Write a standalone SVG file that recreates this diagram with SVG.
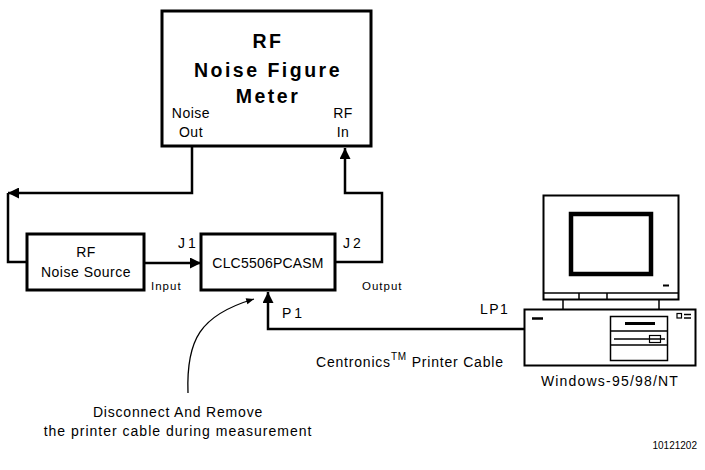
<svg xmlns="http://www.w3.org/2000/svg" width="705" height="470" viewBox="0 0 705 470">
  <style>
    .box { fill: #fff; stroke: #000; stroke-width: 3; }
    .wire { fill: none; stroke: #000; stroke-width: 2.5; }
    .thin { fill: none; stroke: #000; stroke-width: 1.5; }
    .title { font-family: "Liberation Sans", Arial, sans-serif; font-weight: bold; font-size: 19.5px; letter-spacing: 2.5px; text-anchor: middle; fill: #000; }
    .lbl { font-family: "Liberation Sans", Arial, sans-serif; font-size: 14px; fill: #000; letter-spacing: 0.5px; }
    .sm { font-family: "Liberation Sans", Arial, sans-serif; font-size: 11.5px; fill: #000; letter-spacing: 1px; }
    .mid { text-anchor: middle; }
  </style>
  <defs>
    <marker id="ah" viewBox="0 0 10 10" refX="10" refY="5" markerWidth="4.4" markerHeight="4.4" orient="auto" markerUnits="strokeWidth">
      <path d="M0,0 L10,5 L0,10 z" fill="#000"/>
    </marker>
    <marker id="ahs" viewBox="0 0 10 10" refX="10" refY="5" markerWidth="8" markerHeight="6" orient="auto" markerUnits="strokeWidth">
      <path d="M0,1 L10,5 L0,9 z" fill="#000"/>
    </marker>
  </defs>

  <rect width="705" height="470" fill="#fff"/>

  <!-- RF Noise Figure Meter -->
  <g id="meter">
    <rect class="box" x="162" y="11" width="209" height="135" stroke-width="4"/>
    <text class="title" x="268" y="48">RF</text>
    <text class="title" x="268" y="77">Noise Figure</text>
    <text class="title" x="268" y="103">Meter</text>
    <text class="lbl mid" x="191" y="118">Noise</text>
    <text class="lbl mid" x="191" y="137">Out</text>
    <text class="lbl mid" x="343" y="118">RF</text>
    <text class="lbl mid" x="343" y="137">In</text>
  </g>

  <!-- RF Noise Source -->
  <g id="noise-source">
    <rect class="box" x="27" y="234" width="117" height="56"/>
    <text class="lbl mid" x="86" y="257">RF</text>
    <text class="lbl mid" x="86" y="277">Noise Source</text>
  </g>

  <!-- Evaluation board -->
  <g id="board">
    <rect class="box" x="201" y="234" width="134" height="56"/>
    <text class="lbl mid" x="268" y="268" style="letter-spacing:0.2px">CLC5506PCASM</text>
    <text class="lbl" x="178" y="248" style="letter-spacing:3px">J1</text>
    <text class="lbl" x="343" y="248" style="letter-spacing:3px">J2</text>
    <text class="sm" x="151" y="290">Input</text>
    <text class="sm" x="362" y="290">Output</text>
    <text class="lbl" x="282" y="318" style="letter-spacing:3px">P1</text>
  </g>

  <!-- PC -->
  <g id="pc">
    <rect x="543.5" y="195.5" width="135" height="104" fill="#fff" stroke="#000" stroke-width="2"/>
    <rect x="571" y="214" width="80" height="60" fill="#fff" stroke="#000" stroke-width="4.5"/>
    <line class="thin" x1="543.5" y1="293" x2="678.5" y2="293"/>
    <line class="thin" x1="579" y1="293" x2="579" y2="299"/>
    <line class="thin" x1="607" y1="293" x2="607" y2="299"/>
    <line x1="663" y1="285.5" x2="669" y2="285.5" stroke="#000" stroke-width="2"/>
    <line class="thin" x1="563" y1="300" x2="563" y2="309"/>
    <line class="thin" x1="659" y1="300" x2="659" y2="309"/>
    <rect x="524.5" y="309.5" width="171" height="56" fill="#fff" stroke="#000" stroke-width="2"/>
    <line x1="532" y1="318.5" x2="543" y2="318.5" stroke="#000" stroke-width="2.5"/>
    <rect x="610.5" y="316.5" width="57" height="44" fill="none" stroke="#000" stroke-width="1.5"/>
    <line class="thin" x1="610.5" y1="331" x2="667.5" y2="331"/>
    <line class="thin" x1="610.5" y1="345" x2="667.5" y2="345"/>
    <line x1="625" y1="323.5" x2="655" y2="323.5" stroke="#000" stroke-width="3"/>
    <line x1="614" y1="339" x2="665" y2="339" stroke="#000" stroke-width="1.5"/>
    <rect x="649.5" y="335.5" width="11" height="7" fill="none" stroke="#000" stroke-width="1.2"/>
    <rect x="677" y="313.5" width="4.5" height="4.5" fill="none" stroke="#000" stroke-width="1.2"/>
    <line class="thin" x1="684" y1="314.5" x2="691" y2="314.5"/>
    <line class="thin" x1="684" y1="318" x2="691" y2="318"/>
    <text class="lbl mid" x="610" y="386" style="letter-spacing:1.2px">Windows-95/98/NT</text>
    <text class="lbl" x="480" y="314" style="letter-spacing:1.5px">LP1</text>
  </g>

  <!-- connectors -->
  <g id="connectors">
    <path class="wire" d="M192,146 V193 H8" marker-end="url(#ah)"/>
    <path class="wire" d="M8,193 V262 H27"/>
    <path class="wire" d="M144,263 H201" marker-end="url(#ah)"/>
    <path class="wire" d="M335,262 H382 V193 H345 V148" marker-end="url(#ah)"/>
    <path class="wire" d="M524,329 H268 V292" marker-end="url(#ah)"/>
    <path d="M188,393 C186,340 200,315 254,299" fill="none" stroke="#000" stroke-width="1.3" marker-end="url(#ahs)"/>
  </g>

  <!-- notes -->
  <g id="notes">
    <text class="lbl" x="316" y="367" style="letter-spacing:0.8px">Centronics<tspan dy="-7" font-size="10">TM</tspan><tspan dy="7"> Printer Cable</tspan></text>
    <text class="lbl mid" x="178" y="417" style="letter-spacing:0.8px">Disconnect And Remove</text>
    <text class="lbl mid" x="178" y="436" style="letter-spacing:1px">the printer cable during measurement</text>
    <text x="697" y="449" font-family="Liberation Sans, Arial, sans-serif" font-size="10" text-anchor="end">10121202</text>
  </g>
</svg>
